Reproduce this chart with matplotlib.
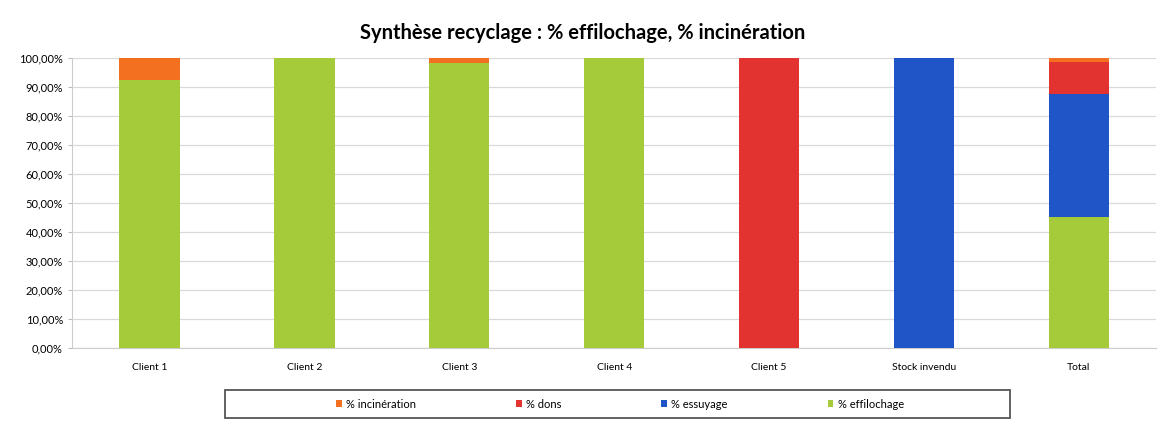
import numpy as np
import matplotlib.pyplot as plt
from matplotlib.ticker import FuncFormatter
from matplotlib.patches import Rectangle

plt.rcParams['font.family'] = ['Lato', 'DejaVu Sans']

categories = ['Client 1', 'Client 2', 'Client 3', 'Client 4', 'Client 5', 'Stock invendu', 'Total']
effilochage = [92.5, 100.0, 98.3, 100.0, 0.0, 0.0, 45.3]
essuyage = [0.0, 0.0, 0.0, 0.0, 0.0, 100.0, 42.3]
dons = [0.0, 0.0, 0.0, 0.0, 100.0, 0.0, 10.8]
incineration = [7.5, 0.0, 1.7, 0.0, 0.0, 0.0, 1.6]

fig = plt.figure(figsize=(11.61, 4.28), dpi=100)
ax = fig.add_axes([0.062, 0.187, 0.934, 0.678])

x = np.arange(len(categories))
w = 0.39
b1 = np.array(effilochage)
b2 = b1 + np.array(essuyage)
b3 = b2 + np.array(dons)
h1 = ax.bar(x, effilochage, w, color='#A6CB3A', label='% effilochage', zorder=3)
h2 = ax.bar(x, essuyage, w, bottom=b1, color='#1F55C6', label='% essuyage', zorder=3)
h3 = ax.bar(x, dons, w, bottom=b2, color='#E23330', label='% dons', zorder=3)
h4 = ax.bar(x, incineration, w, bottom=b3, color='#F47021', label='% incinération', zorder=3)

ax.set_xlim(-0.5, len(categories) - 0.5)
ax.set_ylim(0, 100)
ax.set_yticks(np.arange(0, 101, 10))
ax.yaxis.set_major_formatter(FuncFormatter(lambda v, p: f'{v:.2f}%'.replace('.', ',')))
ax.grid(axis='y', color='#d9d9d9', linewidth=0.9, zorder=0)
ax.set_xticks(x)
ax.set_xticklabels(categories, fontsize=7.5)
ax.tick_params(axis='y', labelsize=8, length=3, color='#bbbbbb')
ax.tick_params(axis='x', length=0, pad=11)
for s in ['top', 'right']:
    ax.spines[s].set_visible(False)
ax.spines['left'].set_color('#cccccc')
ax.spines['bottom'].set_color('#cccccc')

fig.text(0.502, 0.923, 'Synthèse recyclage : % effilochage, % incinération',
         ha='center', va='center', fontsize=14.5, fontweight='bold')

# legend box
fig.patches.append(Rectangle((0.194, 0.023), 0.676, 0.066, transform=fig.transFigure,
                             fill=False, edgecolor='#555555', linewidth=1.3))
leg = fig.legend([h4, h3, h2, h1], ['% incinération', '% dons', '% essuyage', '% effilochage'],
                 loc='center', bbox_to_anchor=(0.534, 0.056), ncol=4, fontsize=8,
                 frameon=False, handlelength=0.5, handleheight=0.6, handletextpad=0.4,
                 columnspacing=9.0)

fig.savefig('out.png', dpi=100)
